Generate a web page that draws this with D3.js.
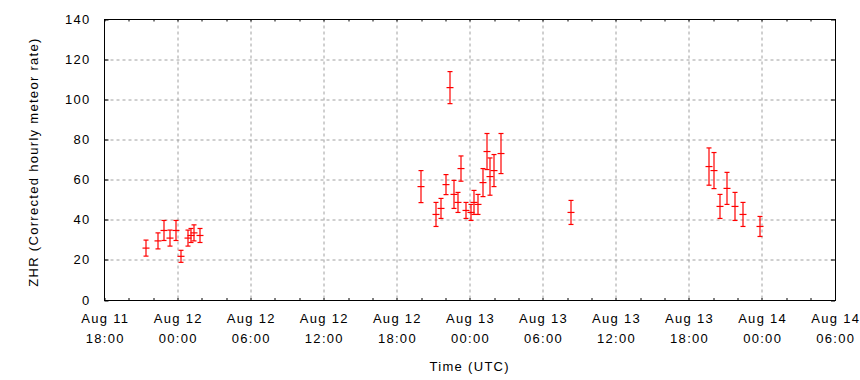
<!DOCTYPE html>
<html>
<head>
<meta charset="utf-8">
<script src="https://cdn.jsdelivr.net/npm/d3@7"></script>
<style>
  body { margin: 0; background: #fff; }
  text { font-family: "Liberation Sans", Arial, sans-serif; font-size: 13px; letter-spacing: 1.3px; fill: #000; }
</style>
</head>
<body>
<div id="chart"></div>
<script>
// ZHR observations (UTC), value and +/- error
var times = [
	"2016-08-11T21:22Z", "2016-08-11T22:22Z", "2016-08-11T22:52Z", "2016-08-11T23:22Z", "2016-08-11T23:51Z",
	"2016-08-12T00:16Z", "2016-08-12T00:47Z", "2016-08-12T01:05Z", "2016-08-12T01:20Z", "2016-08-12T01:49Z",
	"2016-08-12T19:58Z", "2016-08-12T21:11Z", "2016-08-12T21:36Z", "2016-08-12T22:01Z", "2016-08-12T22:21Z",
	"2016-08-12T22:40Z", "2016-08-12T23:00Z", "2016-08-12T23:15Z", "2016-08-12T23:40Z", "2016-08-13T00:04Z",
	"2016-08-13T00:19Z", "2016-08-13T00:38Z", "2016-08-13T01:03Z", "2016-08-13T01:23Z", "2016-08-13T01:38Z",
	"2016-08-13T01:57Z", "2016-08-13T02:32Z", "2016-08-13T08:16Z",
	"2016-08-13T19:36Z", "2016-08-13T20:01Z", "2016-08-13T20:31Z", "2016-08-13T21:05Z", "2016-08-13T21:44Z",
	"2016-08-13T22:24Z", "2016-08-13T23:47Z"
];
var zhr = [
	25.9, 29.5, 34.7, 30.9, 34.7,
	21.8, 30.9, 32.2, 33.5, 32.2,
	56.6, 42.7, 45.7, 57.6, 106.0,
	52.7, 48.7, 65.6, 44.7, 43.7,
	48.7, 47.7, 58.6, 74.1, 61.6,
	64.6, 73.1, 43.7,
	66.6, 64.6, 46.7, 55.7, 46.7,
	42.7, 36.7
];
var zhrErr = [
	4, 4, 5, 4, 5,
	3, 4, 3.5, 4, 3.5,
	8, 6, 5, 5, 8,
	7, 5, 6.3, 4, 4,
	6, 5, 7, 9, 9.3,
	8, 10, 6,
	9.3, 9, 6, 8, 7,
	6, 5
];
var xDomain = ["2016-08-11T18:00Z", "2016-08-14T06:00Z"];
var yTicks = [0, 20, 40, 60, 80, 100, 120, 140];

var data = times.map(function(t, i) {
	return { date: new Date(t), value: zhr[i], err: zhrErr[i] };
});

var margin = { top: 19.5, right: 25, bottom: 80, left: 104.5 };
var width = 860 - margin.left - margin.right,
	height = 380 - margin.top - margin.bottom;

var svg = d3.select("#chart").append("svg")
	.attr("width", 860)
	.attr("height", 380)
	.style("display", "block");

svg.append("rect").attr("width", 860).attr("height", 380).attr("fill", "#fff");

var g = svg.append("g")
	.attr("transform", "translate(" + margin.left + "," + margin.top + ")");

var x = d3.scaleUtc()
	.domain(xDomain.map(function(d){ return new Date(d); }))
	.range([0, width]);

var y = d3.scaleLinear()
	.domain([0, 140])
	.range([height, 0]);

var xTicks = d3.utcHour.every(6).range(x.domain()[0], new Date(x.domain()[1].getTime() + 1));
var xMinor = d3.utcHour.every(2).range(x.domain()[0], x.domain()[1]);

// grid
g.append("g").selectAll("line.gx")
	.data(xTicks.slice(1, -1))
	.enter().append("line")
	.attr("x1", function(d){ return Math.round(x(d)) + 0.5; })
	.attr("x2", function(d){ return Math.round(x(d)) + 0.5; })
	.attr("y1", 0).attr("y2", height)
	.attr("stroke", "#a0a0a0").attr("stroke-dasharray", "3,3");

g.append("g").selectAll("line.gy")
	.data(yTicks.slice(1, -1))
	.enter().append("line")
	.attr("y1", function(d){ return Math.round(y(d)) + 0.5; })
	.attr("y2", function(d){ return Math.round(y(d)) + 0.5; })
	.attr("x1", 0).attr("x2", width)
	.attr("stroke", "#a0a0a0").attr("stroke-dasharray", "3,3");

// minor ticks on top and bottom
var ticksG = g.append("g").attr("stroke", "#000");
ticksG.selectAll("line.mb").data(xMinor).enter().append("line")
	.attr("x1", function(d){ return Math.round(x(d)) + 0.5; })
	.attr("x2", function(d){ return Math.round(x(d)) + 0.5; })
	.attr("y1", height).attr("y2", height - 2);
ticksG.selectAll("line.mt").data(xMinor).enter().append("line")
	.attr("x1", function(d){ return Math.round(x(d)) + 0.5; })
	.attr("x2", function(d){ return Math.round(x(d)) + 0.5; })
	.attr("y1", 0).attr("y2", 2);
ticksG.selectAll("line.yl").data(yTicks).enter().append("line")
	.attr("y1", function(d){ return Math.round(y(d)) + 0.5; })
	.attr("y2", function(d){ return Math.round(y(d)) + 0.5; })
	.attr("x1", 0).attr("x2", 4);
ticksG.selectAll("line.yr").data(yTicks).enter().append("line")
	.attr("y1", function(d){ return Math.round(y(d)) + 0.5; })
	.attr("y2", function(d){ return Math.round(y(d)) + 0.5; })
	.attr("x1", width).attr("x2", width - 4);

// frame
g.append("rect")
	.attr("x", 0).attr("y", 0)
	.attr("width", Math.round(width)).attr("height", Math.round(height))
	.attr("fill", "none").attr("stroke", "#000").attr("stroke-width", 1);

// y tick labels
g.append("g").selectAll("text")
	.data(yTicks)
	.enter().append("text")
	.attr("x", -14)
	.attr("y", function(d){ return y(d); })
	.attr("dy", "0.35em")
	.attr("text-anchor", "end")
	.text(function(d){ return d; });

// x tick labels (two lines)
var fmtDay = d3.utcFormat("%b %d"), fmtTime = d3.utcFormat("%H:%M");
var xl = g.append("g").selectAll("text")
	.data(xTicks)
	.enter().append("text")
	.attr("text-anchor", "middle")
	.attr("transform", function(d){ return "translate(" + (x(d) + 0.7) + "," + (height + 22.5) + ")"; });
xl.append("tspan").attr("x", 0).attr("y", 0).text(fmtDay);
xl.append("tspan").attr("x", 0).attr("y", 20).text(fmtTime);

// axis titles
svg.append("text")
	.attr("x", margin.left + width / 2)
	.attr("y", 371)
	.attr("text-anchor", "middle")
	.text("Time (UTC)");

svg.append("text")
	.attr("transform", "translate(38,162) rotate(-90)")
	.attr("text-anchor", "middle")
	.text("ZHR (Corrected hourly meteor rate)");

// error bars
var pts = g.append("g").attr("stroke", "#ff0000").attr("stroke-width", 1.2)
	.selectAll("g")
	.data(data)
	.enter().append("g")
	.attr("transform", function(d){ return "translate(" + (Math.round(x(d.date)) + 0.5) + ",0)"; });

pts.append("line")
	.attr("x1", 0).attr("x2", 0)
	.attr("y1", function(d){ return y(d.value + d.err); })
	.attr("y2", function(d){ return y(d.value - d.err); });
pts.append("line")
	.attr("x1", -2.5).attr("x2", 2.5)
	.attr("y1", function(d){ return y(d.value + d.err); })
	.attr("y2", function(d){ return y(d.value + d.err); });
pts.append("line")
	.attr("x1", -2.5).attr("x2", 2.5)
	.attr("y1", function(d){ return y(d.value - d.err); })
	.attr("y2", function(d){ return y(d.value - d.err); });
pts.append("line")
	.attr("x1", -3.5).attr("x2", 3.5)
	.attr("y1", function(d){ return y(d.value); })
	.attr("y2", function(d){ return y(d.value); });
</script>
</body>
</html>
